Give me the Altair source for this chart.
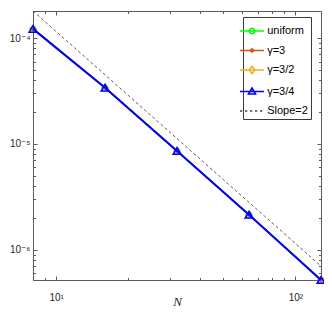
import math
import altair as alt
import pandas as pd

# ---------------- data ----------------
N = [8, 16, 32, 64, 128]
ERR_UNIFORM = [1.22e-4, 3.40e-5, 8.6e-6, 2.15e-6, 5.2e-7]
ERR_G3 = [1.22e-4, 3.40e-5, 8.6e-6, 2.15e-6, 5.2e-7]
ERR_G32 = [1.22e-4, 3.40e-5, 8.6e-6, 2.15e-6, 5.2e-7]
ERR_G34 = [1.22e-4, 3.40e-5, 8.6e-6, 2.15e-6, 5.2e-7]
SLOPE2 = [1.80e-4, 4.50e-5, 1.125e-5, 2.81e-6, 7.03e-7]

SERIES = ["uniform", "γ=3", "γ=3/2", "γ=3/4", "Slope=2"]
COLORS = ["#00FF00", "#D95319", "#EDB120", "#0000FF", "#444444"]

X_DOMAIN = [8, 128]
Y_DOMAIN = [5.2e-7, 1.8e-4]
X_MAJOR = [10, 100]
X_MAJOR_LABELS = ["10¹", "10²"]
X_MINOR = [8, 9, 20, 30, 40, 50, 60, 70, 80, 90]
Y_MAJOR = [1e-6, 1e-5, 1e-4]
Y_MAJOR_LABELS = ["10⁻⁶", "10⁻⁵", "10⁻⁴"]
Y_MINOR = [6e-7, 7e-7, 8e-7, 9e-7,
           2e-6, 3e-6, 4e-6, 5e-6, 6e-6, 7e-6, 8e-6, 9e-6,
           2e-5, 3e-5, 4e-5, 5e-5, 6e-5, 7e-5, 8e-5, 9e-5]

# ---------------- styles ----------------
FONT = "Liberation Sans, Arial, DejaVu Sans"
AX_COLOR = "#5a5a5a"
TXT_COLOR = "#262626"


def poly(r, n=12):
    pts = [(r * math.cos(2 * math.pi * k / n), r * math.sin(2 * math.pi * k / n)) for k in range(n)]
    return "M" + "L".join(f"{x:.3f},{y:.3f}" for x, y in pts) + "Z"


LINE = "M-2.4,0L2.4,0"
DASH = "".join(f"M{a:.2f},0L{a + 0.45:.2f},0" for a in [-2.4, -1.4, -0.4, 0.6, 1.6])
LEGEND_PATHS = [
    LINE + poly(0.55),
    LINE + poly(0.28),
    LINE + "M0,-0.75L0.55,0L0,0.75L-0.55,0Z",
    LINE + "M0,-0.7L0.7,0.5L-0.7,0.5Z",
    DASH,
]


def lab_expr(values, labels):
    e = "''"
    for v, l in zip(values, labels):
        e = f"abs(datum.value / {v!r} - 1) < 0.01 ? '{l}' : ({e})"
    return e


def axis(orient, values, major, labels=None, title=None):
    kw = dict(
        orient=orient,
        values=values,
        domain=False,
        grid=False,
        ticks=True,
        tickSize=alt.ExprRef(expr="-4" if major else "-2.5"),
        tickColor=AX_COLOR,
        tickWidth=1,
    )
    if labels is not None:
        kw.update(
            labels=True,
            labelExpr=lab_expr(values, labels),
            labelFont=FONT,
            labelFontSize=10,
            labelColor=TXT_COLOR,
            labelPadding=7 if orient == "left" else 16,
        )
    else:
        kw["labels"] = False
    if title is not None:
        kw.update(
            title=title,
            titleFont="Liberation Serif, Times New Roman, DejaVu Serif",
            titleFontStyle="italic",
            titleFontWeight="normal",
            titleFontSize=13,
            titleColor=TXT_COLOR,
            titleY=25,
            titleBaseline="alphabetic",
        )
    else:
        kw["title"] = None
    return alt.Axis(**kw)


XS = alt.Scale(type="log", domain=X_DOMAIN, nice=False)
YS = alt.Scale(type="log", domain=Y_DOMAIN, nice=False)


def enc(xa=None, ya=None):
    return dict(
        x=alt.X("N:Q", scale=XS, axis=xa),
        y=alt.Y("err:Q", scale=YS, axis=ya),
    )


def frame(vals, name):
    return pd.DataFrame({"N": N, "err": vals, "series": name})


df_u = frame(ERR_UNIFORM, SERIES[0])
df_3 = frame(ERR_G3, SERIES[1])
df_32 = frame(ERR_G32, SERIES[2])
df_34 = frame(ERR_G34, SERIES[3])
df_s = frame(SLOPE2, SERIES[4])

layers = []
# uniform
layers.append(alt.Chart(df_u).mark_line(color=COLORS[0], strokeWidth=1.5).encode(
    **enc(axis("bottom", X_MAJOR, True, X_MAJOR_LABELS, "N"),
          axis("left", Y_MAJOR, True, Y_MAJOR_LABELS))))
layers.append(alt.Chart(df_u).mark_point(shape="circle", filled=False, color=COLORS[0],
                                         size=36, strokeWidth=1, opacity=1).encode(
    **enc(axis("bottom", X_MINOR, False), axis("left", Y_MINOR, False))))
# gamma = 3
layers.append(alt.Chart(df_3).mark_line(color=COLORS[1], strokeWidth=1.5).encode(
    **enc(axis("top", X_MAJOR, True), axis("right", Y_MAJOR, True))))
layers.append(alt.Chart(df_3).mark_point(shape="circle", filled=True, color=COLORS[1],
                                         size=16, opacity=1).encode(
    **enc(axis("top", X_MINOR, False), axis("right", Y_MINOR, False))))
# gamma = 3/2
layers.append(alt.Chart(df_32).mark_line(color=COLORS[2], strokeWidth=1.5).encode(**enc()))
layers.append(alt.Chart(df_32).mark_point(shape="diamond", filled=False, color=COLORS[2],
                                          size=50, strokeWidth=1, opacity=1).encode(**enc()))
# gamma = 3/4
layers.append(alt.Chart(df_34).mark_line(color=COLORS[3], strokeWidth=2).encode(**enc()))
layers.append(alt.Chart(df_34).mark_point(shape="triangle-up", filled=False, color=COLORS[3],
                                          size=60, strokeWidth=1.5, opacity=1).encode(**enc()))
# slope 2 reference
layers.append(alt.Chart(df_s).mark_line(color="#333333", strokeWidth=0.8,
                                        strokeDash=[3, 2.5]).encode(**enc()))

# legend (scale-driven, no visible marks)
LEG = alt.Legend(
    title=" ",
    titleFontSize=4,
    titlePadding=1,
    orient="none",
    legendX=210,
    legendY=6,
    padding=3,
    rowPadding=7.5,
    symbolSize=100,
    symbolStrokeWidth=1.6,
    symbolOpacity=1,
    labelFont=FONT,
    labelFontSize=11,
    labelColor="#000000",
    labelOffset=9.2,
    strokeColor="#3a3a3a",
    fillColor="#ffffff",
)
legend_df = pd.concat([df_u, df_3, df_32, df_34, df_s], ignore_index=True)
layers.append(
    alt.Chart(legend_df).transform_filter("false").mark_point(filled=False, size=100, opacity=1).encode(
        **enc(),
        color=alt.Color("series:N", scale=alt.Scale(domain=SERIES, range=COLORS), legend=LEG),
        shape=alt.Shape("series:N", scale=alt.Scale(domain=SERIES, range=LEGEND_PATHS), legend=LEG),
    )
)

chart = (
    alt.layer(*layers)
    .resolve_axis(x="independent", y="independent")
    .properties(
        width=288,
        height=269,
        padding={"left": 25, "top": 3, "right": 3, "bottom": 28},
        autosize=alt.AutoSizeParams(type="none"),
        background="#ffffff",
    )
    .configure_view(stroke=AX_COLOR, strokeWidth=1)
)

chart.save("out.html", embed_options={"renderer": "svg", "actions": False})
